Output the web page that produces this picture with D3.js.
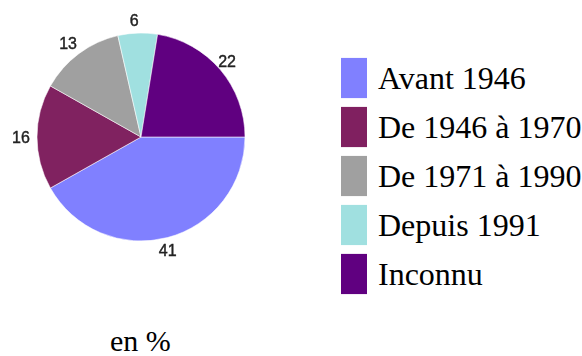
<!DOCTYPE html>
<html>
<head>
<meta charset="utf-8">
<script src="https://cdn.jsdelivr.net/npm/d3@7"></script>
<style>
  html, body { margin: 0; padding: 0; background: #fff; }
  svg { display: block; }
</style>
</head>
<body>
<svg id="chart" width="582" height="356"></svg>
<script>
// Répartition par période (en %)
const categories = ["Avant 1946", "De 1946 à 1970", "De 1971 à 1990", "Depuis 1991", "Inconnu"];
const values = [41, 16, 13, 6, 22];
const colors = ["#8080ff", "#802060", "#a0a0a0", "#a0e0e0", "#600080"];
const unitLabel = "en %";

const svg = d3.select("#chart");
const cx = 141, cy = 137, radius = 104;

const defs = svg.append("defs");
defs.append("filter").attr("id", "soft")
  .attr("x", "-10%").attr("y", "-10%").attr("width", "120%").attr("height", "120%")
  .append("feGaussianBlur").attr("stdDeviation", 0.7);

const color = d3.scaleOrdinal().domain(categories).range(colors);

// Slices run clockwise from 3 o'clock
const pie = d3.pie()
  .sort(null)
  .value(d => d.value)
  .startAngle(Math.PI / 2)
  .endAngle(Math.PI / 2 + 2 * Math.PI);

const data = categories.map((c, i) => ({ name: c, value: values[i] }));
const arcs = pie(data);

const arc = d3.arc().innerRadius(0).outerRadius(radius);
const labelArc = d3.arc().innerRadius(radius + 13).outerRadius(radius + 13);

const g = svg.append("g")
  .attr("transform", `translate(${cx},${cy})`)
  .attr("filter", "url(#soft)");

g.selectAll("path.slice")
  .data(arcs)
  .enter().append("path")
  .attr("class", "slice")
  .attr("d", arc)
  .attr("fill", d => color(d.data.name))
  .attr("stroke", "rgba(255,255,255,0.55)")
  .attr("stroke-width", 1);

g.selectAll("text.val")
  .data(arcs)
  .enter().append("text")
  .attr("class", "val")
  .attr("transform", d => `translate(${labelArc.centroid(d)})`)
  .attr("dx", -3)
  .attr("dy", "0.36em")
  .attr("text-anchor", "middle")
  .attr("font-family", "'Liberation Sans', Arial, sans-serif")
  .attr("font-size", 16)
  .attr("fill", "#222")
  .attr("stroke", "#222")
  .attr("stroke-width", 0.4)
  .text(d => d.data.value);

// Legend
const legendY = d3.scaleBand().domain(categories).range([54, 298]).paddingInner(0.18).paddingOuter(0.08);

const legend = svg.append("g");
const items = legend.selectAll("g.item")
  .data(categories)
  .enter().append("g")
  .attr("class", "item")
  .attr("transform", d => `translate(341,${legendY(d)})`);

items.append("rect")
  .attr("width", 26)
  .attr("height", legendY.bandwidth())
  .attr("fill", d => color(d));

items.append("text")
  .attr("x", 37)
  .attr("y", legendY.bandwidth() / 2 + 11)
  .attr("font-family", "'Liberation Serif', 'Times New Roman', serif")
  .attr("font-size", 32)
  .attr("fill", "#000")
  .text(d => d);

svg.append("text")
  .attr("x", 110)
  .attr("y", 351)
  .attr("font-family", "'Liberation Serif', 'Times New Roman', serif")
  .attr("font-size", 30)
  .attr("fill", "#000")
  .text(unitLabel);
</script>
</body>
</html>
